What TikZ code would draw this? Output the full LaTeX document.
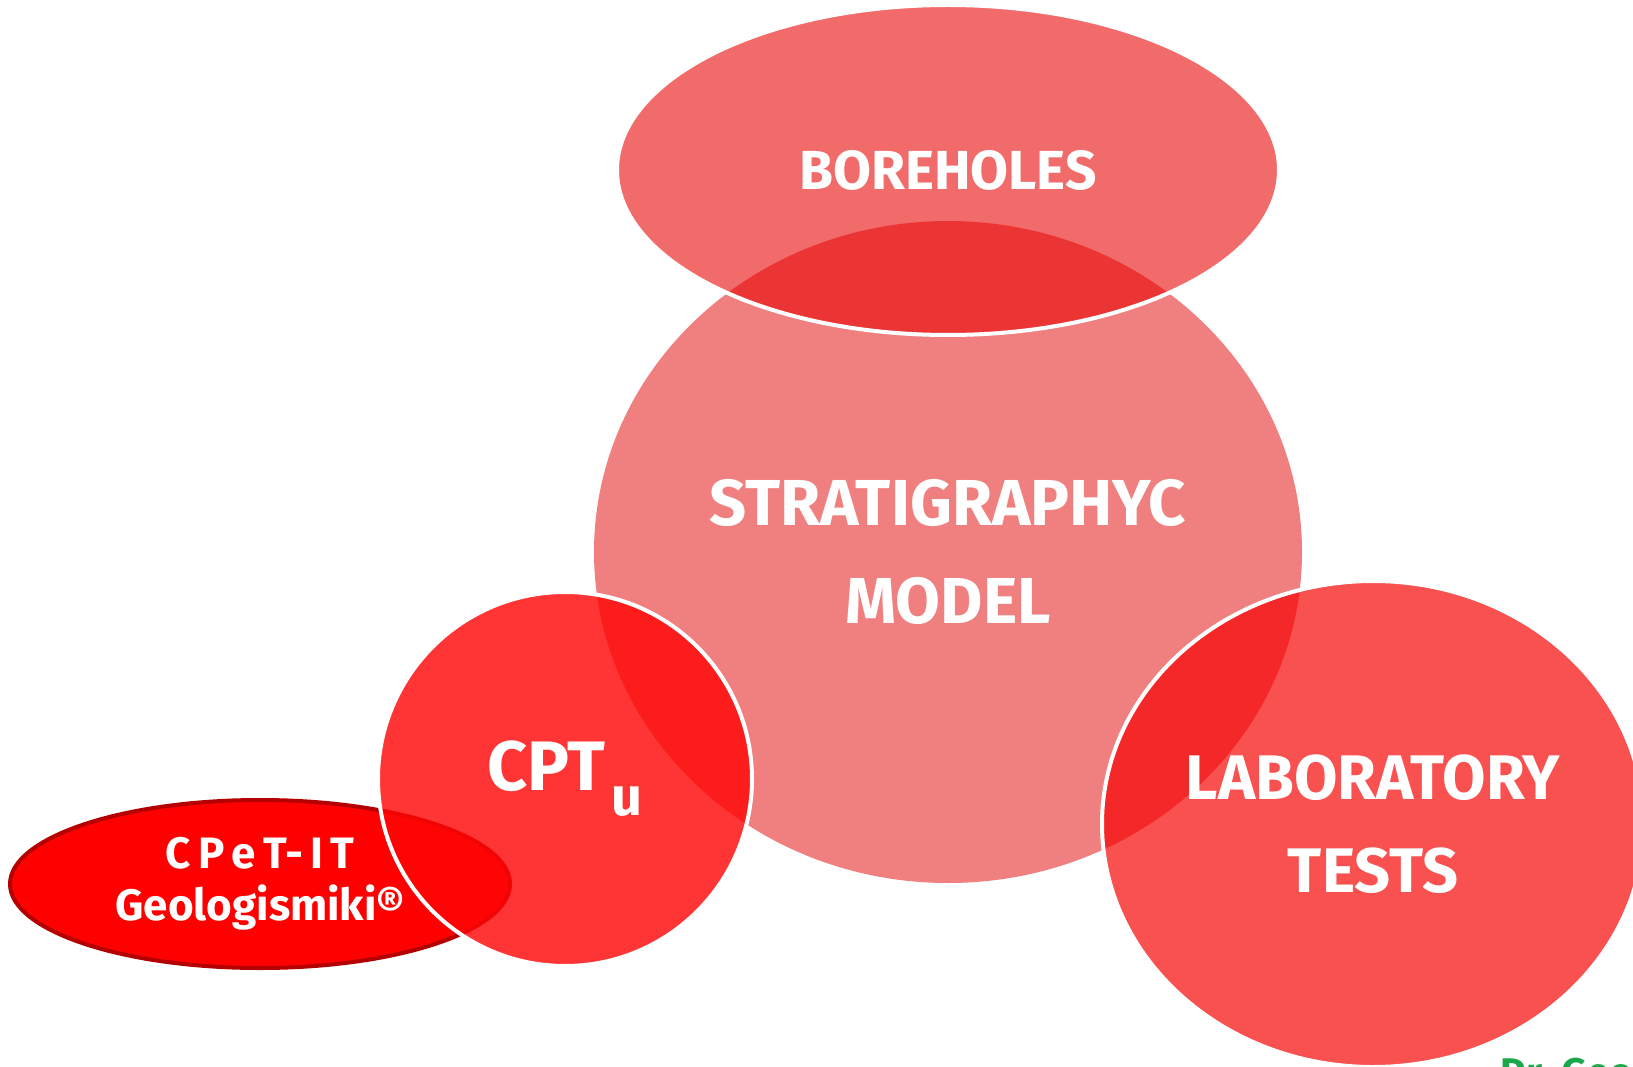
\documentclass[tikz,border=0pt]{standalone}
\usepackage{fontspec}
\setmainfont{Fira Sans}
\usetikzlibrary{shapes.geometric}

\definecolor{stratfill}{HTML}{F08080}
\definecolor{borefill}{HTML}{E90000}
\definecolor{cptufill}{HTML}{FF0606}
\definecolor{labfill}{HTML}{F60000}
\definecolor{cpetfill}{HTML}{FF0000}
\definecolor{cpetline}{HTML}{B40000}
\definecolor{siggreen}{HTML}{1BA84A}

\begin{document}
\begin{tikzpicture}[x=1pt,y=-1pt,
  blob/.style={ellipse, inner sep=0pt, outer sep=0pt, text=white,
    align=center, text opacity=1},
  rim/.style={draw=white, line width=4pt},
  label/.style={inner sep=0pt, text=white, align=center}]
\useasboundingbox (0,0) rectangle (1633,1067);

% software ellipse (underneath the CPTu disc)
\node[blob, minimum width=500pt, minimum height=168pt,
  fill=cpetfill, draw=cpetline, line width=4pt] (cpet) at (260,884) {};

% central model
\node[blob, minimum width=708pt, minimum height=662pt, fill=stratfill,
  font=\fontsize{65}{98}\selectfont\bfseries] (strat) at (948,552)
  {STRATIGRAPHYC\\MODEL};

% data sources, translucent over the model
\node[blob, rim, minimum width=662pt, minimum height=330pt,
  fill=borefill, fill opacity=0.58,
  font=\fontsize{55}{60}\selectfont\bfseries] (bore) at (948,170) {BOREHOLES};

\node[blob, rim, minimum width=374pt, minimum height=374pt,
  fill=cptufill, fill opacity=0.81,
  font=\fontsize{70}{80}\selectfont\bfseries] (cptu) at (565,779)
  {CPT\hspace{6pt}\raisebox{-25pt}{\fontsize{54}{60}\selectfont u}};

\node[blob, rim, minimum width=542pt, minimum height=486pt,
  fill=labfill, fill opacity=0.685,
  font=\fontsize{63}{93}\selectfont\bfseries] (lab) at (1373,824)
  {LABORATORY\\TESTS};

% software label on top
\node[label, font=\fontsize{44}{52}\selectfont\bfseries] (cpettext)
  at (cpet.center) {C\,P\,e\,T-\,I\,T\\Geologismiki®};

% signature at the lower edge
\node[inner sep=0pt, anchor=north west, text=siggreen,
  font=\fontsize{40}{44}\selectfont\bfseries] (sig) at (1500,1058) {Dr. Geo};
\end{tikzpicture}
\end{document}
